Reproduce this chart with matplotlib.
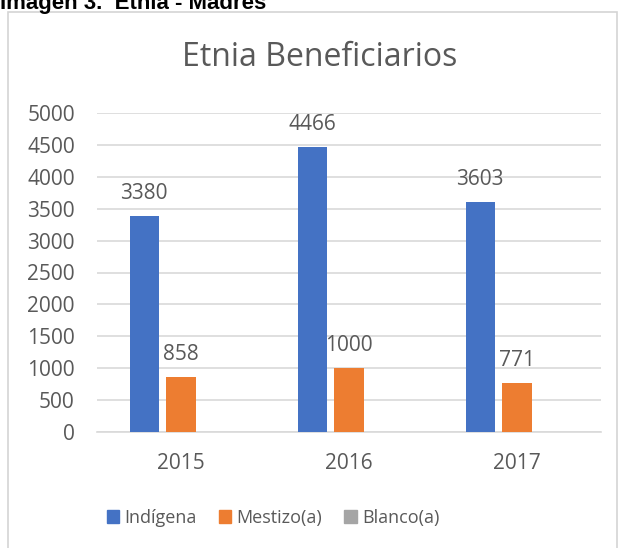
import matplotlib
matplotlib.use("Agg")
import matplotlib.pyplot as plt
from matplotlib.patches import Rectangle
import numpy as np

years = ["2015", "2016", "2017"]
series_names = ["Indígena", "Mestizo(a)", "Blanco(a)"]
indigena = [3380, 4466, 3603]
mestizo = [858, 1000, 771]
blanco = [0, 0, 0]
yticks = [0, 500, 1000, 1500, 2000, 2500, 3000, 3500, 4000, 4500, 5000]
colors = ["#4472C4", "#ED7D31", "#A5A5A5"]

W, H = 624, 548
fig = plt.figure(figsize=(W / 100, H / 100), dpi=100)
fig.patch.set_facecolor("white")

FONT = ["Open Sans", "DejaVu Sans"]
TXT = "#595959"

# chart frame
fig.patches.append(Rectangle((8 / W, -0.01), (617 - 8) / W, (H - 12) / H + 0.01,
                             transform=fig.transFigure, facecolor="none",
                             edgecolor="#d4d4d4", linewidth=1.2, zorder=-5))

# caption (partly clipped at top, as in the reference)
fig.text(0.0, (H - 9) / H, "Imagen 3.  Etnia - Madres", fontsize=16,
         fontweight="bold", family=["Liberation Sans", "DejaVu Sans"],
         color="black", va="baseline", ha="left")

ax = fig.add_axes([97 / W, (H - 432) / H, (601 - 97) / W, (432 - 113) / H])
ax.set_facecolor("none")
x = np.arange(len(years))
bw = 0.173
off = 0.22
series = [indigena, mestizo, blanco]
for i, (vals, name, c) in enumerate(zip(series, series_names, colors)):
    ax.bar(x + (i - 1) * off, vals, width=bw, color=c, label=name, zorder=3)
    if i < 2:
        for xi, v in zip(x + (i - 1) * off, vals):
            ax.annotate(str(v), (xi, v), xytext=(0, 12), textcoords="offset pixels",
                        ha="center", va="bottom", fontsize=15, color=TXT, family=FONT)

ax.set_xlim(-0.5, 2.5)
ax.set_ylim(0, 5000)
ax.set_yticks(yticks)
ax.set_yticklabels([str(t) for t in yticks], family=FONT, fontsize=15, color=TXT)
ax.set_xticks(x)
ax.set_xticklabels(years, family=FONT, fontsize=15, color=TXT)
ax.tick_params(axis="both", length=0)
ax.tick_params(axis="y", pad=16)
ax.tick_params(axis="x", pad=15)
ax.grid(axis="y", color="#d9d9d9", linewidth=1.2, zorder=0)
ax.set_axisbelow(True)
for s in ["top", "right", "left"]:
    ax.spines[s].set_visible(False)
ax.spines["bottom"].set_color("#d9d9d9")
ax.spines["bottom"].set_linewidth(1.2)

fig.text(320 / W, (H - 58) / H, "Etnia Beneficiarios", family=FONT, fontsize=23,
         color=TXT, ha="center", va="center")

handles = [Rectangle((0, 0), 1, 1, color=c) for c in colors]
fig.legend(handles, series_names, loc="center", bbox_to_anchor=(273 / W, (H - 518) / H),
           ncol=3, frameon=False, prop={"family": FONT, "size": 13},
           labelcolor=TXT, handlelength=0.7, handleheight=0.7, handletextpad=0.3,
           columnspacing=1.2)

fig.savefig("out.png", dpi=100, facecolor="white")
